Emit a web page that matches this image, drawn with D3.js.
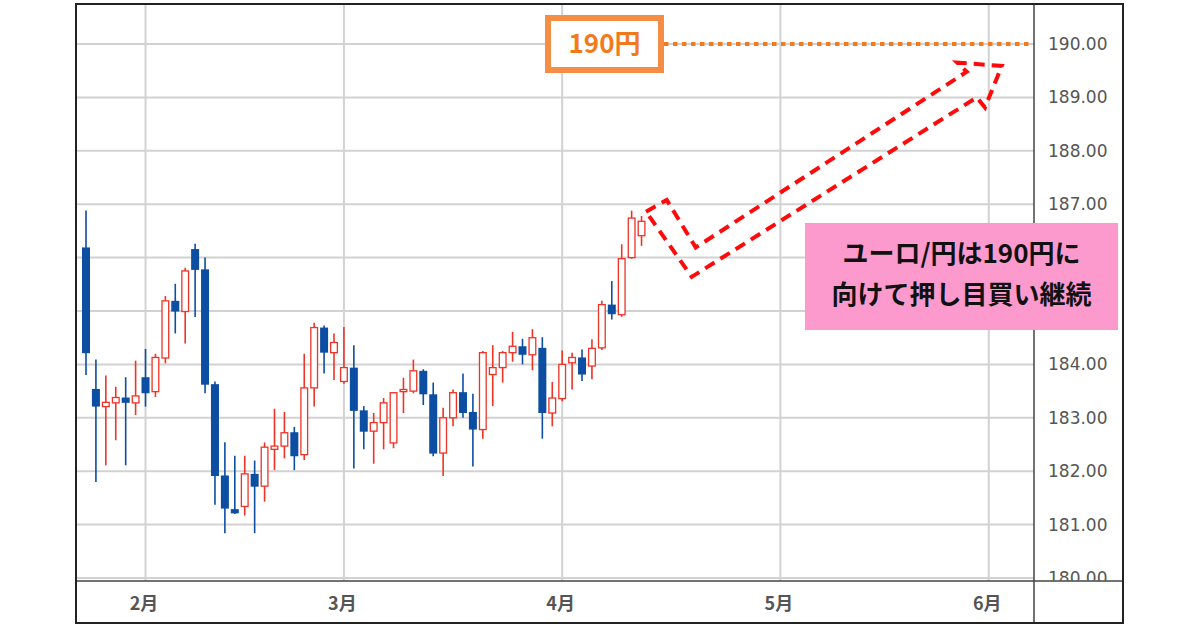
<!DOCTYPE html>
<html>
<head>
<meta charset="utf-8">
<script src="https://cdn.jsdelivr.net/npm/d3@7/dist/d3.min.js"></script>
<style>
  html, body { margin: 0; padding: 0; background: #fff; }
  svg { display: block; }
</style>
</head>
<body>
<script>
// ---- Data (EUR/JPY daily candles, index = trading day) ----
const opens  = [186.19,183.54,183.21,183.28,183.38,183.28,183.76,183.49,184.12,185.19,
                184.99,186.16,185.78,183.63,181.92,181.29,181.34,181.95,181.72,182.41,
                182.47,182.73,182.31,183.56,184.69,184.22,183.68,183.94,183.14,182.75,
                182.91,182.53,183.49,183.50,183.88,183.44,182.34,183.00,183.48,183.11,
                182.78,183.81,183.94,184.22,184.34,184.18,184.31,183.09,183.36,184.03,
                184.13,183.97,184.31,185.12,184.93,186.00,186.41];
const highs  = [186.88,184.09,183.79,183.58,183.76,184.07,184.29,184.20,185.28,185.51,
                185.81,186.26,186.00,183.68,182.54,182.29,182.29,182.20,182.54,183.17,
                183.11,182.83,184.20,184.78,184.73,184.58,184.70,184.36,183.22,183.09,
                183.37,183.47,183.75,184.09,183.91,183.66,183.19,183.53,183.83,183.45,
                184.25,184.36,184.25,184.61,184.48,184.66,184.51,183.67,184.26,184.22,
                184.28,184.47,185.19,185.56,186.25,186.88,186.78];
const lows   = [183.80,181.80,182.11,182.58,182.11,183.05,183.21,183.39,184.02,184.58,
                184.39,184.89,183.46,181.37,180.84,181.20,181.17,180.84,181.43,182.02,
                182.24,182.02,182.21,183.21,183.83,183.71,183.64,182.05,182.41,182.14,
                182.41,182.43,183.09,183.46,183.24,182.28,181.91,182.84,183.00,182.09,
                182.61,183.22,183.66,184.05,184.00,183.89,182.61,182.84,183.31,183.53,
                183.69,183.72,184.27,184.84,184.89,185.98,186.22];
const closes = [184.21,183.21,183.29,183.38,183.28,183.41,183.46,184.13,185.19,184.99,
                185.75,185.77,183.62,181.91,181.30,181.21,181.95,181.71,182.45,182.47,
                182.72,182.28,183.56,184.69,184.22,184.41,183.94,183.13,182.74,182.91,
                183.28,183.47,183.53,183.88,183.44,182.33,183.00,183.47,183.09,182.78,
                184.22,183.94,184.22,184.34,184.18,184.50,183.09,183.37,184.00,184.13,
                183.81,184.30,185.12,184.94,185.98,186.74,186.68];

// month ticks (trading-day index of first day of month)
const monthTickIndex = [6, 26, 48, 70, 91];
const monthTickLabels = ["2月", "3月", "4月", "5月", "6月"];
const priceTicks = [180, 181, 182, 183, 184, 185, 186, 187, 188, 189, 190];

// annotation data
const targetPrice = 190;
const targetLabel = "190円";
const noteLines = ["ユーロ/円は190円に", "向けて押し目買い継続"];
// dashed arrow outline, in (index, price) space
const arrowIdx   = [56.45, 58.54, 61.46, 88.78, 87.83, 92.31, 90.62, 89.79, 61.06];
const arrowPrice = [186.86, 187.08, 186.19, 189.48, 189.65, 189.59, 188.81, 189.00, 185.64];

// ---- Layout ----
const W = 1200, H = 630;
const frame = {left: 76, top: 4, right: 1123, bottom: 623};
const plot = {left: 77, top: 4, right: 1034, bottom: 581};
const note = {x: 805, y: 223, w: 313, h: 107};

const svg = d3.select("body").append("svg").attr("width", W).attr("height", H);

const x = d3.scaleLinear().domain([-0.907, 95.56]).range([plot.left, plot.right]);
const y = d3.scaleLinear().domain([179.944, 190.749]).range([plot.bottom, plot.top]);

const defs = svg.append("defs");
defs.append("clipPath").attr("id", "plotClip").append("rect")
  .attr("x", plot.left).attr("y", plot.top)
  .attr("width", plot.right - plot.left).attr("height", plot.bottom - plot.top);
defs.append("clipPath").attr("id", "labelClip").append("rect")
  .attr("x", plot.right).attr("y", 0)
  .attr("width", W - plot.right).attr("height", plot.bottom - 0.5);

// ---- Grid ----
const grid = svg.append("g").attr("clip-path", "url(#plotClip)");
grid.selectAll("line.h").data(priceTicks).enter().append("line")
  .attr("x1", plot.left).attr("x2", plot.right)
  .attr("y1", d => y(d)).attr("y2", d => y(d))
  .attr("stroke", "#d2d2d2").attr("stroke-width", 2);
grid.selectAll("line.v").data(monthTickIndex).enter().append("line")
  .attr("x1", d => x(d)).attr("x2", d => x(d))
  .attr("y1", plot.top).attr("y2", plot.bottom)
  .attr("stroke", "#d2d2d2").attr("stroke-width", 2);

// ---- Candles ----
const candles = opens.map((o, i) => ({i, o, h: highs[i], l: lows[i], c: closes[i]}));
const blue = "#0b4ea2", red = "#ef3326";
const bodyW = 8;
const cg = svg.append("g").attr("clip-path", "url(#plotClip)");
const cnd = cg.selectAll("g.c").data(candles).enter().append("g");
cnd.append("line")
  .attr("x1", d => x(d.i)).attr("x2", d => x(d.i))
  .attr("y1", d => y(d.h)).attr("y2", d => y(d.l))
  .attr("stroke", d => d.c >= d.o ? red : blue)
  .attr("stroke-width", 1.6);
cnd.append("rect")
  .attr("x", d => x(d.i) - bodyW / 2 + (d.c >= d.o ? 0.65 : 0))
  .attr("width", d => d.c >= d.o ? bodyW - 1.3 : bodyW)
  .attr("y", d => y(Math.max(d.o, d.c)))
  .attr("height", d => Math.max(1.5, Math.abs(y(d.o) - y(d.c))))
  .attr("fill", d => d.c >= d.o ? "#fff" : blue)
  .attr("stroke", d => d.c >= d.o ? red : "none")
  .attr("stroke-width", 1.3);

// ---- Axes ----
// labels hidden under the note box in the original are not drawn
const visibleTicks = priceTicks.filter(v => y(v) < note.y - 4 || y(v) > note.y + note.h + 4);
const yAxis = d3.axisRight(y).tickValues(visibleTicks)
  .tickFormat(d3.format(".2f")).tickSize(0).tickPadding(14);
const yOuter = svg.append("g").attr("clip-path", "url(#labelClip)");
const yg = yOuter.append("g").attr("transform", `translate(${plot.right},0)`).call(yAxis);
yg.select(".domain").remove();
yg.selectAll("text")
  .attr("font-family", "'DejaVu Sans', Verdana, sans-serif")
  .attr("font-size", 17).attr("fill", "#555");

const xAxis = d3.axisBottom(x).tickValues(monthTickIndex)
  .tickFormat((d, i) => monthTickLabels[i]).tickSize(0);
const xg = svg.append("g").attr("transform", `translate(0,${plot.bottom})`).call(xAxis);
xg.select(".domain").remove();
xg.selectAll("text")
  .attr("x", -2).attr("y", 23).attr("dy", "0.35em")
  .attr("font-family", "'Noto Sans CJK JP', sans-serif")
  .attr("font-weight", 700)
  .attr("font-size", 18).attr("fill", "#555");

// axis lines & frame
svg.append("line").attr("x1", frame.left).attr("x2", frame.right)
  .attr("y1", plot.bottom).attr("y2", plot.bottom)
  .attr("stroke", "#444").attr("stroke-width", 1.5);
svg.append("line").attr("x1", plot.right).attr("x2", plot.right)
  .attr("y1", frame.top).attr("y2", frame.bottom)
  .attr("stroke", "#444").attr("stroke-width", 1.5);
svg.append("rect").attr("x", frame.left).attr("y", frame.top)
  .attr("width", frame.right - frame.left).attr("height", frame.bottom - frame.top)
  .attr("fill", "none").attr("stroke", "#222").attr("stroke-width", 2);

// ---- Annotations ----
const ann = svg.append("g");
const boxX = 548, boxW = 113, boxH = 52;
ann.append("line")
  .attr("x1", boxX + boxW + 3).attr("x2", plot.right - 1)
  .attr("y1", y(targetPrice)).attr("y2", y(targetPrice))
  .attr("stroke", "#f27a1c").attr("stroke-width", 4)
  .attr("stroke-dasharray", "4.5 4.5");
ann.append("rect")
  .attr("x", boxX).attr("y", y(targetPrice) - boxH / 2)
  .attr("width", boxW).attr("height", boxH)
  .attr("fill", "#fff").attr("stroke", "#f68d45").attr("stroke-width", 6);
ann.append("text")
  .attr("x", boxX + boxW / 2).attr("y", y(targetPrice))
  .attr("dy", "0.36em").attr("text-anchor", "middle")
  .attr("font-family", "'Noto Sans CJK JP', sans-serif")
  .attr("font-weight", 700).attr("font-size", 26)
  .attr("fill", "#f27a1c")
  .text(targetLabel);

// dashed arrow
const arrowPts = arrowIdx.map((d, i) => [x(d), y(arrowPrice[i])]);
ann.append("path")
  .attr("d", d3.line()(arrowPts) + "Z")
  .attr("fill", "none").attr("stroke", "#ff0a0a").attr("stroke-width", 4)
  .attr("stroke-dasharray", "11 7").attr("stroke-linejoin", "miter");

// pink note box
ann.append("rect")
  .attr("x", note.x).attr("y", note.y).attr("width", note.w).attr("height", note.h)
  .attr("fill", "#fc9acd");
ann.selectAll("text.note").data(noteLines).enter().append("text")
  .attr("x", note.x + note.w / 2)
  .attr("y", (d, i) => note.y + 31 + i * 41)
  .attr("dy", "0.36em").attr("text-anchor", "middle")
  .attr("font-family", "'Noto Sans CJK JP', sans-serif")
  .attr("font-weight", 700).attr("font-size", 26)
  .attr("fill", "#111")
  .text(d => d);
</script>
</body>
</html>
